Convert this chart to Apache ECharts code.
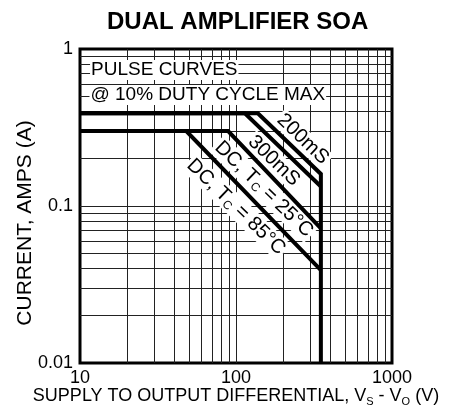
<!DOCTYPE html>
<html>
<head>
<meta charset="utf-8">
<script src="https://cdn.jsdelivr.net/npm/echarts@6/dist/echarts.min.js"></script>
<style>
  html, body { margin: 0; padding: 0; background: #fff; }
  #chart { width: 449px; height: 413px; }
</style>
</head>
<body>
<div id="chart"></div>
<script>
// ---------- data ----------
var xRange = [10, 1000];
var yRange = [0.01, 1];

// minor grid lines (log decades)
var xGrid = [20, 30, 40, 50, 60, 70, 80, 90, 100, 200, 300, 400, 500, 600, 700, 800, 900];
var yGrid = [0.02, 0.03, 0.04, 0.05, 0.06, 0.07, 0.08, 0.09, 0.1,
             0.2, 0.3, 0.4, 0.5, 0.6, 0.7, 0.8, 0.9];

// SOA curves  [V, A]
var curve200ms = [[10, 0.39], [138, 0.39], [350, 0.16], [350, 0.01]];
var curve300ms = [[10, 0.39], [114, 0.39], [350, 0.133]];
var curveDC25  = [[10, 0.30], [89, 0.30], [350, 0.072]];
var curveDC85  = [[10, 0.30], [48, 0.30], [350, 0.039]];

// curve labels: text, anchor [V, A]
var curveLabelText = ['200mS', '300mS', '{n|DC, T}{s|C}{n| = 25°C}', '{n|DC, T}{s|C}{n| = 85°C}'];
var curveLabelAt   = [[268, 0.267], [175, 0.194], [151, 0.128], [100, 0.0986]];

var noteText = ['PULSE CURVES', '@ 10% DUTY CYCLE MAX'];
var noteAt   = [[11.6, 0.735], [11.5, 0.51]];

// ---------- chart ----------
var FONT = '"Liberation Sans", Arial, Helvetica, sans-serif';
var chart = echarts.init(document.getElementById('chart'));

function curve(data) {
  return {
    type: 'line',
    data: data,
    symbol: 'none',
    z: 5,
    lineStyle: { color: '#000', width: 4, join: 'miter' },
    silent: true
  };
}

var labelData = [];
curveLabelText.forEach(function (t, i) {
  labelData.push({
    value: curveLabelAt[i],
    label: {
      show: true,
      position: 'inside',
      formatter: t,
      rotate: -44,
      fontSize: 20,
      color: '#000',
      fontFamily: FONT,
      backgroundColor: '#fff',
      padding: [0, 2],
      rich: {
        n: { fontSize: 20, fontFamily: FONT, color: '#000', lineHeight: 22 },
        s: { fontSize: 12, fontFamily: FONT, color: '#000', lineHeight: 22, verticalAlign: 'bottom' }
      }
    }
  });
});
noteText.forEach(function (t, i) {
  labelData.push({
    value: noteAt[i],
    label: {
      show: true,
      position: 'right',
      distance: 0,
      formatter: t,
      fontSize: 19,
      lineHeight: 20,
      color: '#000',
      fontFamily: FONT,
      backgroundColor: '#fff',
      padding: [0, 1]
    }
  });
});

var option = {
  animation: false,
  title: {
    text: 'DUAL AMPLIFIER SOA',
    left: 107,
    top: 5,
    padding: [5, 0, 5, 0],
    textStyle: { fontSize: 24, fontWeight: 'bold', color: '#000', fontFamily: FONT }
  },
  grid: {
    left: 80, top: 49, width: 312, height: 314,
    outerBoundsMode: 'none',
    show: true, borderColor: '#000', borderWidth: 3, backgroundColor: '#fff'
  },
  xAxis: {
    type: 'log', logBase: 10, min: xRange[0], max: xRange[1],
    name: '{n|SUPPLY TO OUTPUT DIFFERENTIAL, V}{s|S}{n| - V}{s|O}{n| (V)}',
    nameLocation: 'middle',
    nameGap: 22,
    nameMoveOverlap: false,
    nameTextStyle: {
      rich: {
        n: { fontSize: 18, fontFamily: FONT, color: '#000', lineHeight: 22 },
        s: { fontSize: 11, fontFamily: FONT, color: '#000', lineHeight: 22, verticalAlign: 'bottom' }
      }
    },
    axisLine: { show: false },
    axisTick: { show: false },
    splitLine: { show: false },
    axisLabel: {
      fontSize: 18, color: '#000', fontFamily: FONT, margin: 6,
      formatter: function (v) { return String(v); }
    }
  },
  yAxis: {
    type: 'log', logBase: 10, min: yRange[0], max: yRange[1],
    name: 'CURRENT, AMPS (A)',
    nameLocation: 'middle',
    nameGap: 44,
    nameMoveOverlap: false,
    nameTextStyle: { fontSize: 21, color: '#000', fontFamily: FONT, padding: [0, 34, 0, 0] },
    axisLine: { show: false },
    axisTick: { show: false },
    splitLine: { show: false },
    axisLabel: {
      fontSize: 18, color: '#000', fontFamily: FONT, margin: 7,
      formatter: function (v) { return String(v); }
    }
  },
  series: [
    {
      type: 'line',
      data: [],
      z: 1,
      silent: true,
      markLine: {
        z: 1,
        silent: true,
        symbol: ['none', 'none'],
        label: { show: false },
        lineStyle: { color: '#222', width: 1, type: 'solid' },
        data: xGrid.map(function (v) { return { xAxis: v }; })
          .concat(yGrid.map(function (v) { return { yAxis: v }; }))
      }
    },
    {
      type: 'scatter',
      symbolSize: 0,
      z: 3,
      silent: true,
      itemStyle: { opacity: 1 },
      data: labelData
    },
    curve(curve200ms),
    curve(curve300ms),
    curve(curveDC25),
    curve(curveDC85)
  ]
};

chart.setOption(option);
window.addEventListener('resize', function () { chart.resize(); });
</script>
</body>
</html>
